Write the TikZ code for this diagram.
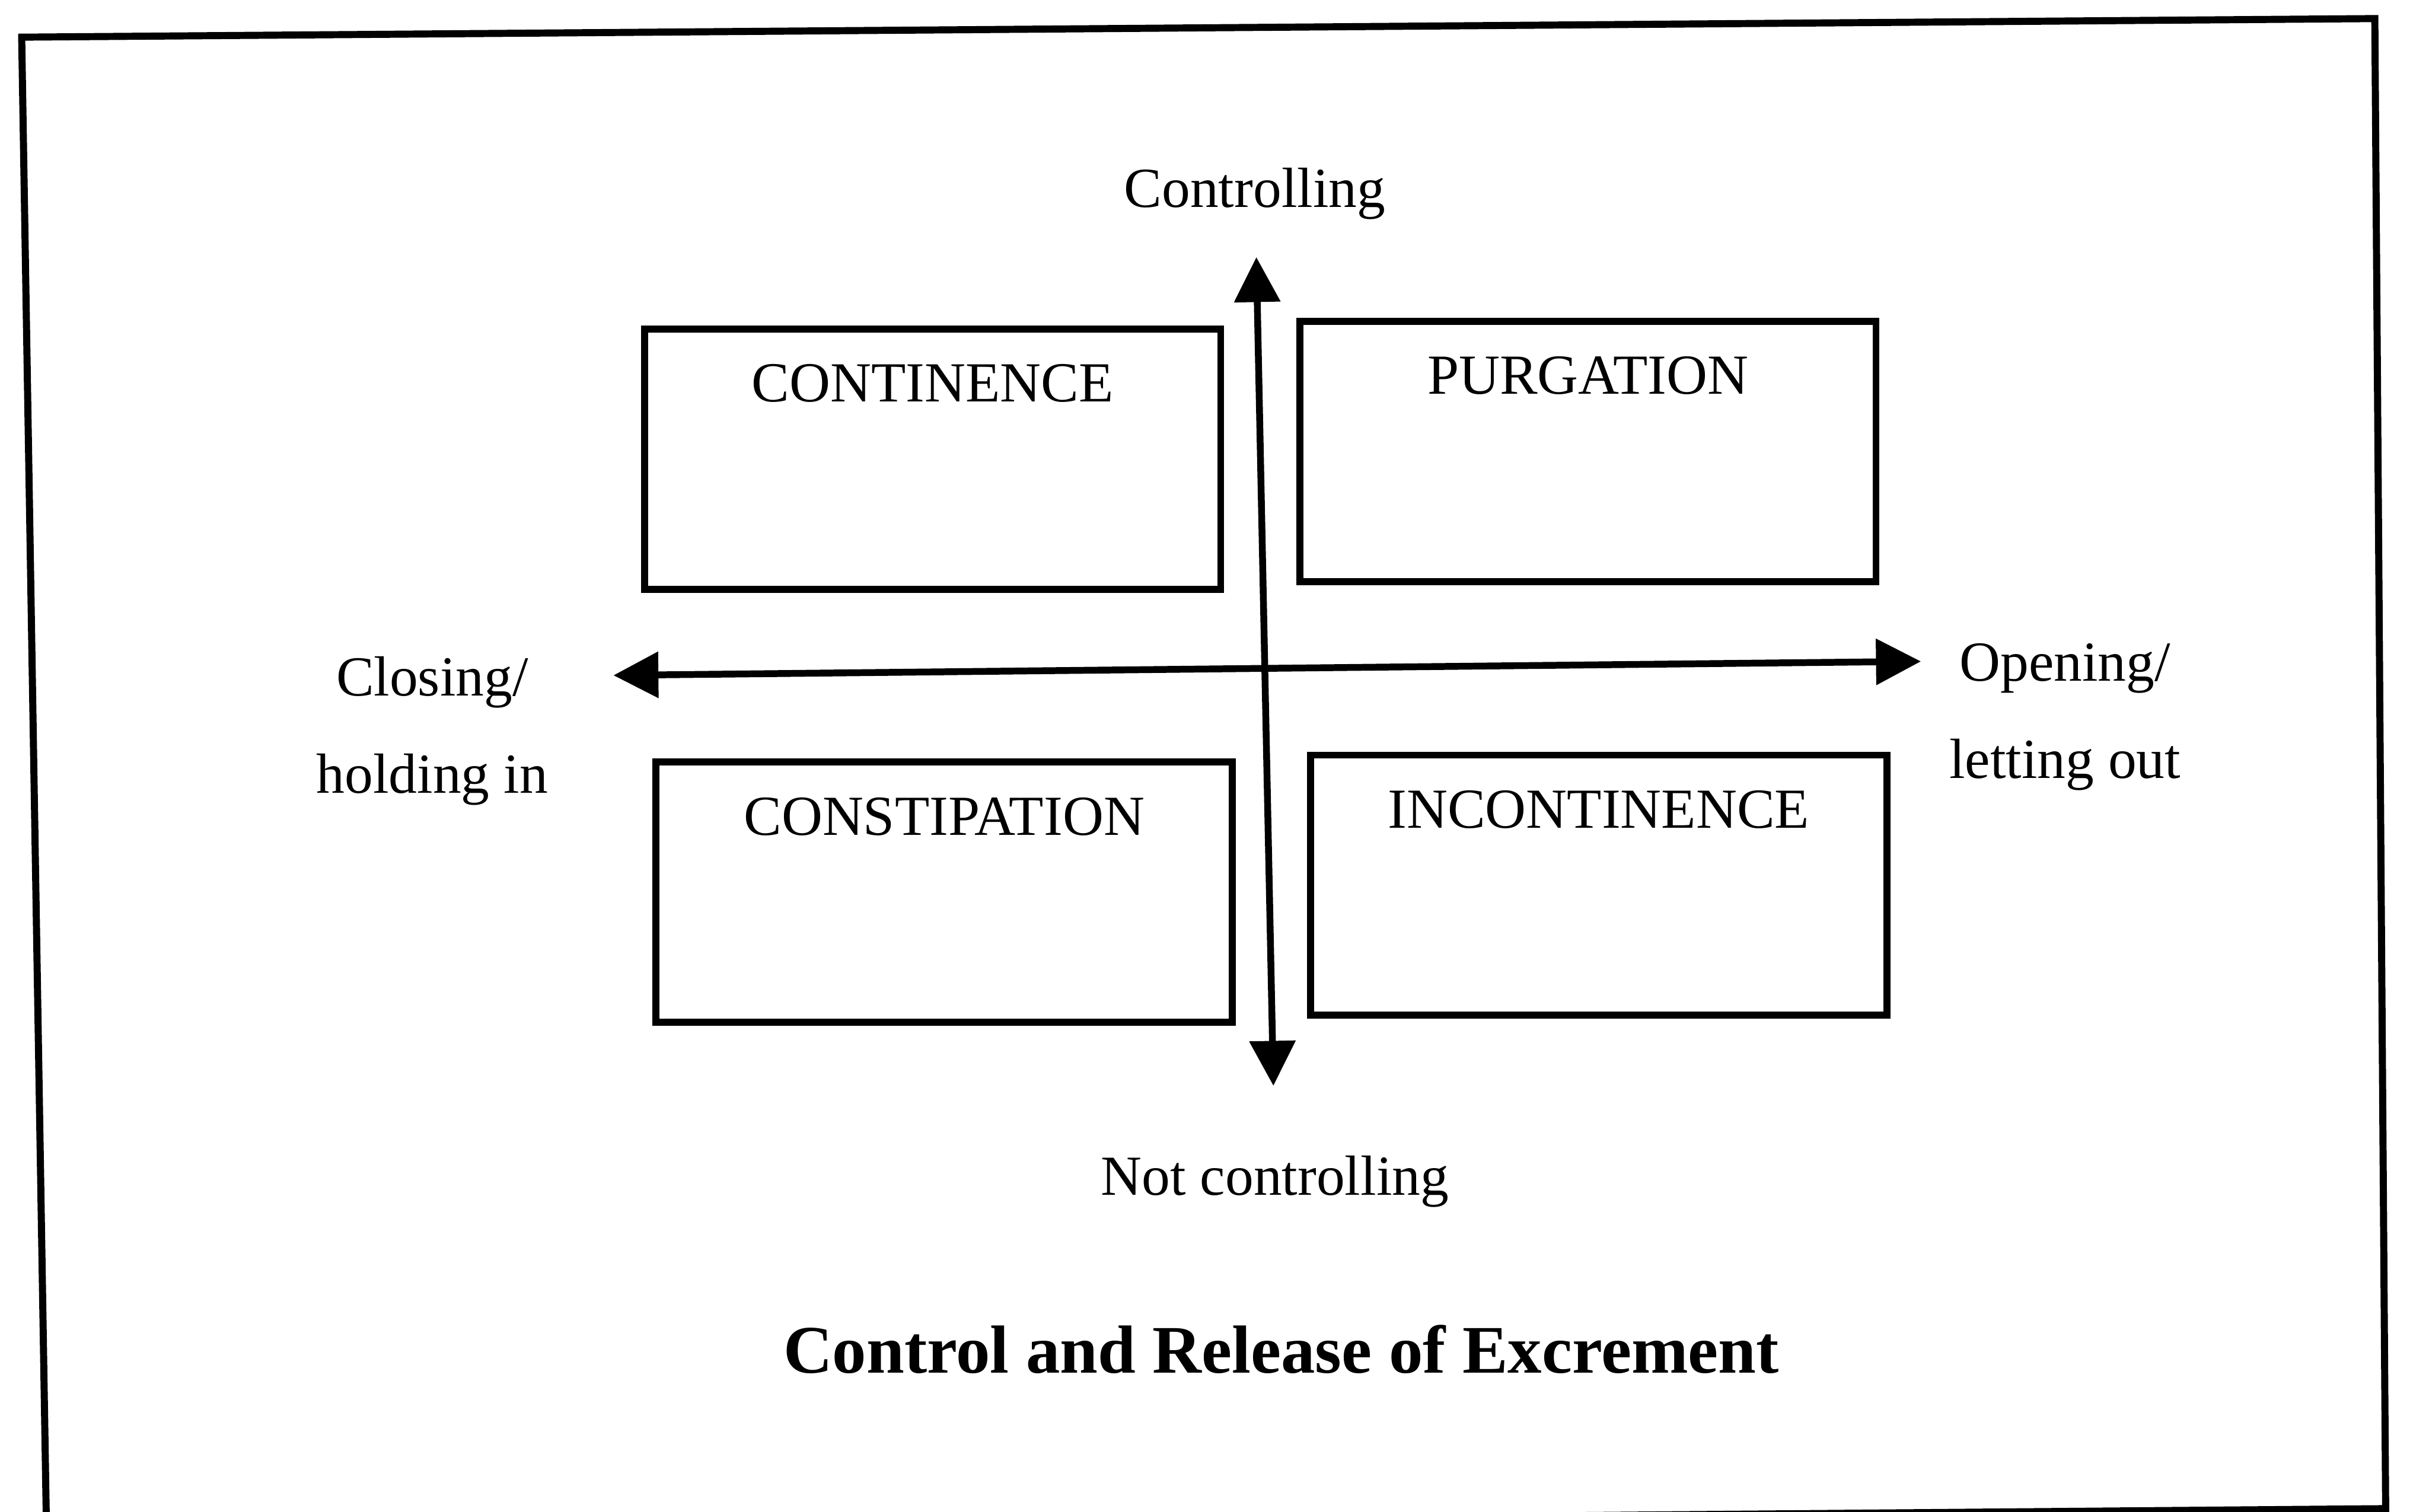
\documentclass[tikz,border=0pt]{standalone}
\usepackage{fontspec}
\setmainfont{Liberation Serif}
\usetikzlibrary{arrows.meta}

\begin{document}
\begin{tikzpicture}[
    quad/.style={draw=black, line width=1.3pt,
                 minimum width=3.72cm, inner sep=0pt,
                 text height=0.47cm, text depth=1.21cm,
                 font=\fontsize{10.4}{12}\selectfont},
    axis/.style={{Triangle[length=2.9mm, width=2.9mm]}-{Triangle[length=2.9mm, width=2.9mm]},
                 line width=1.25pt},
    lbl/.style={font=\fontsize{10.4}{17.9}\selectfont, align=center, inner sep=0pt},
    frame/.style={line width=1.3pt, line join=miter},
]
\useasboundingbox (0,0) rectangle (15.68,-9.76);

% Outer frame (slightly skewed scan)
\draw[frame] (0.14,-0.24) -- (15.33,-0.12) -- (15.40,-9.74)
    -- (0.30,-9.87) -- cycle;

% Four quadrants
\node[quad] (cont)   at (6.02,-2.965)  {CONTINENCE};
\node[quad] (purg)   at (10.25,-2.915) {PURGATION};
\node[quad] (const)  at (6.095,-5.76)  {CONSTIPATION};
\node[quad] (incont) at (10.32,-5.715) {INCONTINENCE};

% Axis labels
\node[lbl] (ctrl)    at (8.10,-1.25)  {Controlling};
\node[lbl] (notctrl) at (8.23,-7.63)  {Not controlling};
\node[lbl] (closing) at (2.79,-4.72)  {Closing/\\holding in};
\node[lbl] (opening) at (13.33,-4.63) {Opening/\\letting out};

% Axes
\coordinate (vtop)   at (8.11,-1.66);
\coordinate (vbot)   at (8.22,-7.01);
\coordinate (hleft)  at (3.96,-4.36);
\coordinate (hright) at (12.40,-4.27);
\draw[axis] (vtop) -- (vbot);
\draw[axis] (hleft) -- (hright);

% Caption
\node[font=\fontsize{12.5}{15}\selectfont\bfseries, inner sep=0pt] (title)
    at (8.27,-8.71) {Control and Release of Excrement};

\end{tikzpicture}
\end{document}
